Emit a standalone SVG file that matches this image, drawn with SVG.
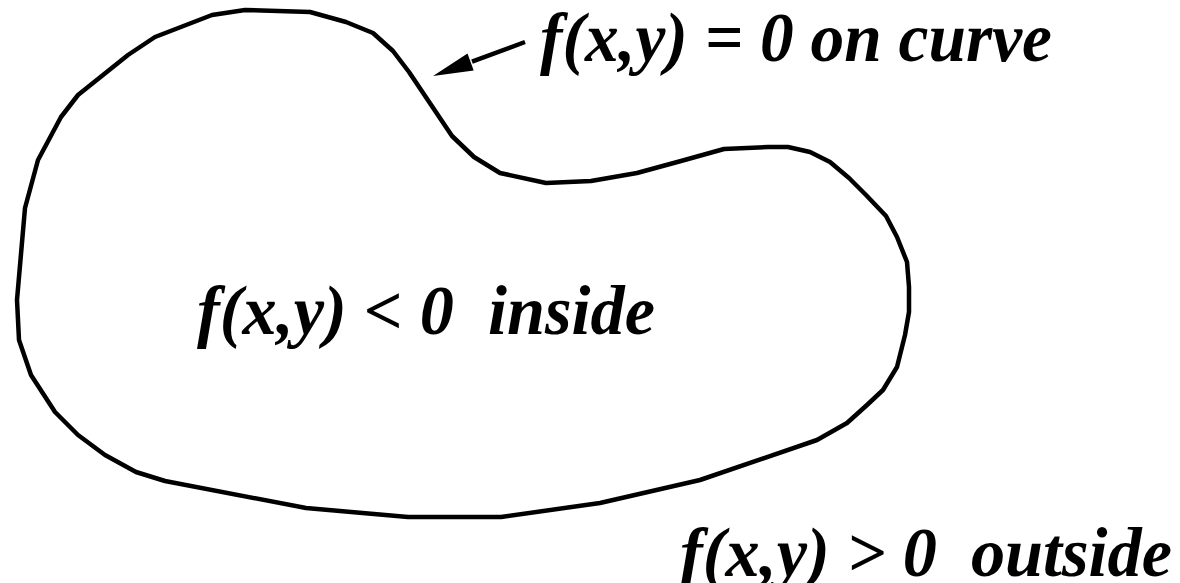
<svg xmlns="http://www.w3.org/2000/svg" width="1180" height="583" viewBox="0 0 1180 583">
<style>
.lbl{font-family:"Liberation Serif","Times New Roman",serif;font-weight:bold;font-style:italic;font-size:70px;fill:#000}
.curve{fill:none;stroke:#000;stroke-width:4.5;stroke-linejoin:round}
</style>
<rect width="1180" height="583" fill="#fff"/>
<g id="curve">
<polygon class="curve" points="245,10 310,12 346,22 373,33 393,51 409,72 452,136 474,157 500,173 546,183 591,181 637,173 681,161 724,149 768,147 788,147 810,152 830,162 849,178 866,195 886,216 897,237 907,262 909,287 909,312 905,335 897,367 883,390 867,405 847,423 817,440 700,480 600,503 501,517 408,517 306,508 165,481 136,472 105,455 78,435 55,412 31,375 19,340 17,300 25,208 38,160 61,117 78,95 128,55 155,37 212,15"/>
</g>
<g id="connectors">
<line x1="525" y1="42" x2="472" y2="61.6" stroke="#000" stroke-width="4.5"/>
<polygon points="433,76 467.5,53.6 473.7,70.6" fill="#000"/>
</g>
<g id="label-on">
<text class="lbl" x="540" y="61" textLength="512" lengthAdjust="spacingAndGlyphs">f(x,y) = 0 on curve</text>
</g>
<g id="label-inside">
<text class="lbl" x="197" y="334" textLength="458" lengthAdjust="spacingAndGlyphs" xml:space="preserve">f(x,y) &lt; 0  inside</text>
</g>
<g id="label-outside">
<text class="lbl" x="680" y="576" textLength="492" lengthAdjust="spacingAndGlyphs" xml:space="preserve">f(x,y) &gt; 0  outside</text>
</g>
</svg>
